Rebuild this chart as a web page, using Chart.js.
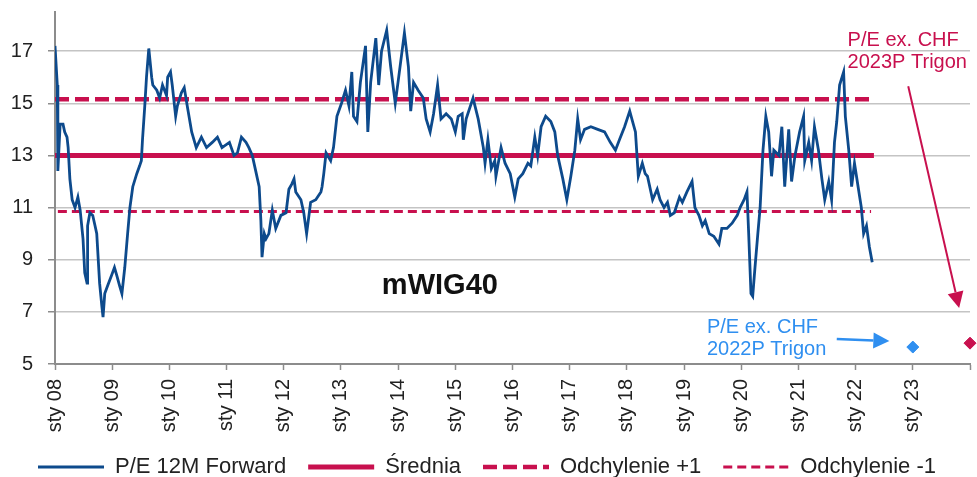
<!DOCTYPE html>
<html>
<head>
<meta charset="utf-8">
<script src="https://cdn.jsdelivr.net/npm/chart.js@4.4.1/dist/chart.umd.min.js"></script>
<style>
  html, body { margin: 0; padding: 0; background: #fff; }
  #wrap { width: 977px; height: 477px; position: relative; }
</style>
</head>
<body>
<div id="wrap"><canvas id="pe-chart"></canvas></div>
<script>
// P/E 12M forward (x = decimal year)
const peYears = [
  2008.00, 2008.04, 2008.05, 2008.09, 2008.14, 2008.17, 2008.21, 2008.23, 2008.26, 2008.30,
  2008.35, 2008.40, 2008.44, 2008.49, 2008.52, 2008.56, 2008.57, 2008.61, 2008.66, 2008.70,
  2008.73, 2008.78, 2008.82, 2008.84, 2008.87, 2008.92, 2008.99, 2009.04, 2009.08, 2009.13,
  2009.17, 2009.22, 2009.27, 2009.31, 2009.36, 2009.43, 2009.48, 2009.51, 2009.53, 2009.57,
  2009.60, 2009.64, 2009.69, 2009.71, 2009.78, 2009.83, 2009.88, 2009.95, 2009.97, 2010.02,
  2010.05, 2010.11, 2010.14, 2010.21, 2010.26, 2010.32, 2010.39, 2010.47, 2010.56, 2010.65,
  2010.75, 2010.84, 2010.92, 2011.05, 2011.13, 2011.19, 2011.26, 2011.34, 2011.39, 2011.45,
  2011.52, 2011.57, 2011.60, 2011.62, 2011.66, 2011.69, 2011.74, 2011.80, 2011.86, 2011.95,
  2012.04, 2012.09, 2012.14, 2012.18, 2012.21, 2012.30, 2012.35, 2012.40, 2012.47, 2012.56,
  2012.65, 2012.67, 2012.70, 2012.74, 2012.82, 2012.87, 2012.93, 2013.01, 2013.08, 2013.14,
  2013.19, 2013.22, 2013.28, 2013.34, 2013.43, 2013.47, 2013.52, 2013.61, 2013.66, 2013.71,
  2013.80, 2013.87, 2013.95, 2014.01, 2014.11, 2014.18, 2014.22, 2014.27, 2014.35, 2014.44,
  2014.49, 2014.56, 2014.62, 2014.69, 2014.75, 2014.84, 2014.93, 2015.00, 2015.05, 2015.12,
  2015.14, 2015.19, 2015.31, 2015.40, 2015.49, 2015.52, 2015.57, 2015.63, 2015.69, 2015.71,
  2015.80, 2015.87, 2015.96, 2016.04, 2016.10, 2016.18, 2016.27, 2016.32, 2016.39, 2016.44,
  2016.50, 2016.58, 2016.67, 2016.74, 2016.79, 2016.88, 2016.95, 2017.02, 2017.09, 2017.14,
  2017.19, 2017.26, 2017.37, 2017.49, 2017.61, 2017.71, 2017.80, 2017.87, 2017.96, 2018.05,
  2018.10, 2018.15, 2018.20, 2018.27, 2018.32, 2018.36, 2018.45, 2018.53, 2018.58, 2018.65,
  2018.71, 2018.76, 2018.83, 2018.92, 2018.97, 2019.05, 2019.14, 2019.19, 2019.26, 2019.32,
  2019.37, 2019.44, 2019.52, 2019.61, 2019.66, 2019.75, 2019.84, 2019.93, 2019.98, 2020.05,
  2020.10, 2020.13, 2020.17, 2020.20, 2020.24, 2020.29, 2020.33, 2020.38, 2020.43, 2020.48,
  2020.53, 2020.57, 2020.66, 2020.71, 2020.76, 2020.83, 2020.88, 2020.94, 2021.02, 2021.09,
  2021.11, 2021.18, 2021.23, 2021.28, 2021.35, 2021.41, 2021.46, 2021.53, 2021.58, 2021.63,
  2021.67, 2021.72, 2021.79, 2021.82, 2021.88, 2021.93, 2021.98, 2022.05, 2022.10, 2022.14,
  2022.19, 2022.24, 2022.29
];
const peValues = [
  17.2, 15.7, 12.4, 14.2, 14.2, 13.9, 13.7, 13.3, 12.1, 11.3,
  11.0, 11.4, 10.9, 9.8, 8.5, 8.1, 10.3, 10.8, 10.7, 10.3,
  10.0, 8.1, 7.2, 6.8, 7.7, 8.0, 8.4, 8.7, 8.4, 8.0,
  7.7, 8.7, 10.0, 11.0, 11.8, 12.3, 12.6, 12.8, 13.6, 14.9,
  16.0, 17.1, 16.0, 15.7, 15.5, 15.2, 15.7, 15.3, 16.0, 16.2,
  15.7, 14.5, 14.9, 15.4, 15.6, 14.8, 13.9, 13.3, 13.7, 13.3,
  13.5, 13.7, 13.3, 13.5, 13.0, 13.1, 13.7, 13.5, 13.3, 13.0,
  12.3, 11.8, 10.5, 9.1, 10.0, 9.8, 10.0, 10.9, 10.2, 10.7,
  10.8, 11.7, 11.9, 12.1, 11.6, 11.3, 10.8, 10.0, 11.2, 11.3,
  11.6, 11.8, 12.3, 13.1, 12.8, 13.3, 14.5, 15.0, 15.5, 14.9,
  16.2, 14.5, 14.3, 15.8, 17.2, 13.9, 15.8, 17.5, 15.7, 17.0,
  17.8, 16.4, 15.0, 16.0, 17.7, 16.4, 14.7, 15.8, 15.5, 15.2,
  14.4, 13.9, 14.6, 15.7, 14.4, 14.6, 14.4, 13.9, 14.5, 14.6,
  13.6, 14.4, 15.2, 14.4, 13.3, 12.7, 13.6, 12.5, 12.8, 12.2,
  13.3, 12.7, 12.3, 11.4, 12.1, 12.3, 12.7, 12.6, 13.7, 13.0,
  14.1, 14.5, 14.3, 13.9, 13.0, 12.1, 11.3, 12.2, 13.2, 14.4,
  13.6, 14.0, 14.1, 14.0, 13.9, 13.5, 13.2, 13.6, 14.1, 14.7,
  14.3, 13.9, 12.2, 12.7, 12.3, 12.2, 11.3, 11.7, 11.3, 11.0,
  11.2, 10.7, 10.8, 11.4, 11.2, 11.6, 12.0, 11.0, 10.7, 10.3,
  10.5, 10.0, 9.9, 9.6, 10.2, 10.2, 10.4, 10.7, 11.0, 11.3,
  11.6, 10.0, 7.7, 7.6, 8.7, 10.0, 11.0, 13.2, 14.5, 13.9,
  12.2, 13.2, 13.0, 14.1, 11.8, 14.0, 12.0, 13.0, 13.9, 14.5,
  12.8, 13.5, 12.8, 14.1, 13.2, 12.1, 11.3, 12.0, 11.3, 13.5,
  14.3, 15.7, 16.2, 14.5, 13.2, 11.8, 12.7, 11.7, 11.0, 10.0,
  10.3, 9.5, 8.9
];

// mean and +/- 1 std lines
const avgYears = [2008.00, 2022.32];
const avgValues = [13.0, 13.0];
const plusYears = [2008.00, 2022.32];
const plusValues = [15.15, 15.15];
const minusYears = [2008.05, 2022.27];
const minusValues = [10.85, 10.85];

// P/E ex. CHF forecasts (2022P, 2023P)
const fcYears = [2023.0, 2024.0];
const fcValues = [5.65, 5.8];

const yTicks = [5, 7, 9, 11, 13, 15, 17];
const xTicks = [2008, 2009, 2010, 2011, 2012, 2013, 2014, 2015, 2016, 2017, 2018, 2019, 2020, 2021, 2022, 2023, 2024];
const xTickLabels = ['sty 08', 'sty 09', 'sty 10', 'sty 11', 'sty 12', 'sty 13', 'sty 14', 'sty 15',
  'sty 16', 'sty 17', 'sty 18', 'sty 19', 'sty 20', 'sty 21', 'sty 22', 'sty 23', ''];

const seriesLabels = ['P/E 12M Forward', 'Średnia', 'Odchylenie +1', 'Odchylenie -1'];

const BLUE = '#0d4a8c';
const RED = '#c8104e';
const LIGHT_BLUE = '#2f8ff0';
const FONT = '"Liberation Sans", Arial, sans-serif';

function pts(xs, ys) {
  return xs.map((x, i) => ({ x: x, y: ys[i] }));
}

// text and arrows drawn in data coordinates
const notes = [
  { text: 'mWIG40', x: 2014.73, y: 8.0, color: '#111', font: 'bold 29px ' + FONT, align: 'center' },
  { text: 'P/E ex. CHF', x: 2021.86, y: 17.42, color: RED, font: '20px ' + FONT, align: 'left' },
  { text: '2023P Trigon', x: 2021.86, y: 16.58, color: RED, font: '20px ' + FONT, align: 'left' },
  { text: 'P/E ex. CHF', x: 2019.40, y: 6.40, color: LIGHT_BLUE, font: '20px ' + FONT, align: 'left' },
  { text: '2022P Trigon', x: 2019.40, y: 5.56, color: LIGHT_BLUE, font: '20px ' + FONT, align: 'left' }
];
const arrows = [
  { from: [2022.92, 15.65], to: [2023.81, 7.15], color: RED, width: 2 },
  { from: [2021.67, 5.96], to: [2022.59, 5.88], color: LIGHT_BLUE, width: 2.5 }
];

const notesPlugin = {
  id: 'notes',
  afterDatasetsDraw(chart) {
    const ctx = chart.ctx;
    const sx = chart.scales.x, sy = chart.scales.y;
    ctx.save();
    ctx.textBaseline = 'middle';
    notes.forEach(n => {
      ctx.font = n.font;
      ctx.fillStyle = n.color;
      ctx.textAlign = n.align;
      ctx.fillText(n.text, sx.getPixelForValue(n.x), sy.getPixelForValue(n.y));
    });
    arrows.forEach(a => {
      const x1 = sx.getPixelForValue(a.from[0]), y1 = sy.getPixelForValue(a.from[1]);
      const x2 = sx.getPixelForValue(a.to[0]), y2 = sy.getPixelForValue(a.to[1]);
      const ang = Math.atan2(y2 - y1, x2 - x1);
      const head = 16, half = 8;
      const bx = x2 - head * Math.cos(ang), by = y2 - head * Math.sin(ang);
      ctx.strokeStyle = a.color;
      ctx.fillStyle = a.color;
      ctx.lineWidth = a.width;
      ctx.beginPath();
      ctx.moveTo(x1, y1);
      ctx.lineTo(bx, by);
      ctx.stroke();
      ctx.beginPath();
      ctx.moveTo(x2, y2);
      ctx.lineTo(bx + half * Math.sin(ang), by - half * Math.cos(ang));
      ctx.lineTo(bx - half * Math.sin(ang), by + half * Math.cos(ang));
      ctx.closePath();
      ctx.fill();
    });
    ctx.restore();
  }
};

// keep the legend strip short so the plot keeps its height
const legendHeightPlugin = {
  id: 'legendHeight',
  beforeLayout(chart) {
    const lg = chart.legend;
    if (lg && !lg._fixedFit) {
      const fit = lg.fit;
      lg.fit = function () { fit.call(this); this.height = 43; };
      lg._fixedFit = true;
    }
  }
};

const ctx = document.getElementById('pe-chart').getContext('2d');
const peChart = new Chart(ctx, {
  type: 'line',
  data: {
    datasets: [{
      label: seriesLabels[0],
      data: pts(peYears, peValues),
      borderColor: BLUE,
      backgroundColor: BLUE,
      borderWidth: 2.8,
      pointRadius: 0,
      tension: 0
    }, {
      label: seriesLabels[1],
      data: pts(avgYears, avgValues),
      borderColor: RED,
      backgroundColor: RED,
      borderWidth: 5,
      pointRadius: 0
    }, {
      label: seriesLabels[2],
      data: pts(plusYears, plusValues),
      borderColor: RED,
      backgroundColor: RED,
      borderWidth: 4.5,
      borderDash: [14, 6],
      pointRadius: 0
    }, {
      label: seriesLabels[3],
      data: pts(minusYears, minusValues),
      borderColor: RED,
      backgroundColor: RED,
      borderWidth: 3,
      borderDash: [9, 5],
      pointRadius: 0
    }, {
      label: 'forecast',
      data: pts(fcYears, fcValues),
      showLine: false,
      pointStyle: 'rectRot',
      pointRadius: 6,
      pointBackgroundColor: [LIGHT_BLUE, RED],
      pointBorderColor: [LIGHT_BLUE, RED],
      clip: false
    }]
  },
  options: {
    responsive: true,
    maintainAspectRatio: false,
    animation: false,
    layout: { padding: { top: 12, right: 3, left: 0, bottom: 0 } },
    plugins: {
      tooltip: { enabled: false },
      legend: {
        position: 'bottom',
        labels: {
          usePointStyle: true,
          pointStyle: 'line',
          pointStyleWidth: 66,
          padding: 22,
          color: '#222',
          font: { family: FONT, size: 22 },
          filter: item => item.datasetIndex < 4,
          generateLabels: chart => {
            const items = Chart.defaults.plugins.legend.labels.generateLabels(chart);
            return items.map(item => {
              const ds = chart.data.datasets[item.datasetIndex];
              item.lineDash = ds.borderDash || [];
              item.lineWidth = ds.borderWidth;
              item.strokeStyle = ds.borderColor;
              return item;
            });
          }
        }
      }
    },
    scales: {
      x: {
        type: 'linear',
        min: 2008,
        max: 2024,
        afterBuildTicks: s => { s.ticks = xTicks.map(v => ({ value: v })); },
        afterFit: s => { s.height = 70; s.paddingLeft = 0; s.paddingRight = 0; },
        border: { color: '#8c8c8c', width: 2 },
        grid: { drawOnChartArea: false, drawTicks: true, tickLength: 6, tickColor: '#8c8c8c', tickWidth: 1.5 },
        ticks: {
          autoSkip: false,
          minRotation: 90,
          maxRotation: 90,
          padding: 9,
          color: '#222',
          font: { family: FONT, size: 20 },
          callback: (v, i) => xTickLabels[i]
        }
      },
      y: {
        min: 5,
        max: 18.5,
        afterBuildTicks: s => { s.ticks = yTicks.map(v => ({ value: v })); },
        afterFit: s => { s.width = 55; s.paddingTop = 0; s.paddingBottom = 0; },
        border: { color: '#8c8c8c', width: 2 },
        grid: {
          color: c => (c.tick && c.tick.value === 5 ? 'rgba(0,0,0,0)' : '#c4c4c4'),
          lineWidth: 1.5,
          borderDash: [3, 2],
          tickLength: 7,
          tickColor: '#8c8c8c',
          tickWidth: 1.5,
          tickBorderDash: []
        },
        ticks: {
          padding: 15,
          color: '#222',
          font: { family: FONT, size: 20 }
        }
      }
    }
  },
  plugins: [notesPlugin, legendHeightPlugin]
});
</script>
</body>
</html>
